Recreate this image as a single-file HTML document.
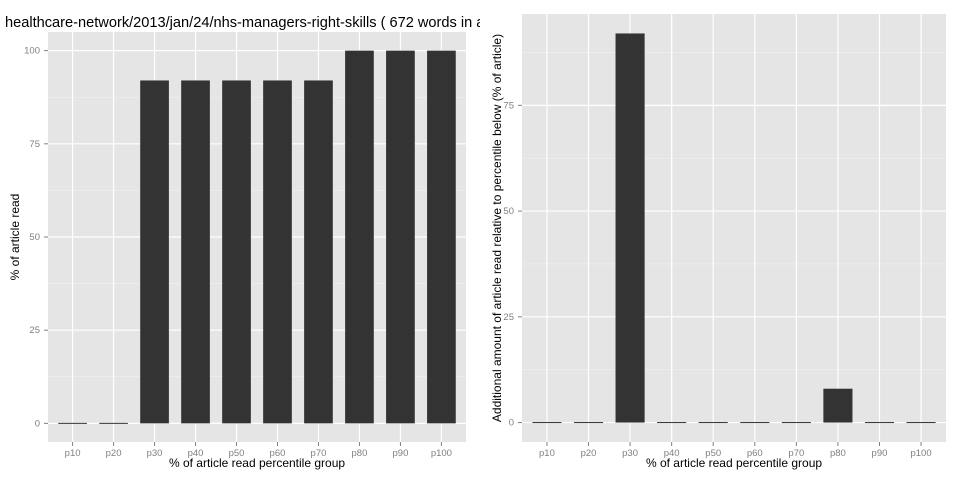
<!DOCTYPE html>
<html><head><meta charset="utf-8"><style>
html,body{margin:0;padding:0;background:#fff;}
svg{display:block;font-family:"Liberation Sans",sans-serif;}
</style></head><body>
<svg id="chart" width="960" height="480" viewBox="0 0 960 480">
<defs><clipPath id="leftclip"><rect x="0" y="0" width="480" height="480"/></clipPath></defs>
</svg>
<script>
const categories = ["p10","p20","p30","p40","p50","p60","p70","p80","p90","p100"];
const leftValues = [0,0,92,92,92,92,92,100,100,100];
const rightValues = [0,0,92,0,0,0,0,8,0,0];
const leftTicks = [0,25,50,75,100];
const rightTicks = [0,25,50,75];

const NS = "http://www.w3.org/2000/svg";
const svg = document.getElementById("chart");
function mk(tag, attrs, parent){
  const e = document.createElementNS(NS, tag);
  for (const k in attrs) e.setAttribute(k, attrs[k]);
  (parent||svg).appendChild(e);
  return e;
}

function panel(cfg){
  const g = mk("g", {});
  
  
  const {x0,x1,y0,y1,vals,ticks} = cfg;
  const maxV = Math.max(...vals);
  const lo = -0.05*maxV, hi = maxV*1.05;
  const yS = v => y1 - (v - lo)/(hi - lo)*(y1 - y0);
  const step = (x1 - x0)/(categories.length + 0.2);
  const xS = i => x0 + step*(0.6 + i);
  const bg = mk("rect",{x:x0,y:y0,width:x1-x0,height:y1-y0,fill:"#e5e5e5"},g);
  
  
  for (let k=0;k<ticks.length;k++){
    const m = ticks[k] + 12.5;
    if (m < hi) mk("line",{x1:x0,x2:x1,y1:yS(m),y2:yS(m),stroke:"#f2f2f2","stroke-width":0.5},g);
  }
  ticks.forEach(t=>{
    mk("line",{x1:x0,x2:x1,y1:yS(t),y2:yS(t),stroke:"#fff","stroke-width":1.2},g);
    const lab = mk("text",{x:x0-8,y:yS(t)+3,"text-anchor":"end","font-size":9.5,fill:"#7f7f7f"},g);
    lab.textContent = t;
    
    
    mk("line",{x1:x0-4,x2:x0,y1:yS(t),y2:yS(t),stroke:"#7f7f7f","stroke-width":1},g);
  });
  categories.forEach((c,i)=>{
    const cx = xS(i);
    mk("line",{x1:cx,x2:cx,y1:y0,y2:y1,stroke:"#fff","stroke-width":1.2},g);
  });
  categories.forEach((c,i)=>{
    const cx = xS(i), bw = step*0.7;
    const top = yS(Math.max(vals[i],0)), base = yS(0);
    const h = Math.max(base-top, 1);
    const r = mk("rect",{x:cx-bw/2,y:base-h+(vals[i]===0?0.5:0),width:bw,height:h,fill:"#333333"},g);
    
    
    mk("line",{x1:cx,x2:cx,y1:y1,y2:y1+4,stroke:"#7f7f7f","stroke-width":1},g);
    const lab = mk("text",{x:cx,y:y1+14,"text-anchor":"middle","font-size":9.5,fill:"#7f7f7f"},g);
    lab.textContent = c;
    
    
  });
  const xt = mk("text",{x:(x0+x1)/2,y:y1+25,"text-anchor":"middle","font-size":12,fill:"#000"},g);
  xt.textContent = "% of article read percentile group";
  
  
  const yt = mk("text",{x:0,y:0,"text-anchor":"middle","font-size":12,fill:"#000",transform:`translate(${cfg.ytx},${(y0+y1)/2}) rotate(-90)`},g);
  yt.textContent = cfg.ytitle;
  
  
}

panel({name:"left-panel",x0:48,x1:466,y0:32,y1:442,vals:leftValues,ticks:leftTicks,ytx:19,ytitle:"% of article read"});
panel({name:"right-panel",x0:522,x1:946,y0:14,y1:442,vals:rightValues,ticks:rightTicks,ytx:501,ytitle:"Additional amount of article read relative to percentile below (% of article)"});

const title = mk("text",{x:5,y:27,"font-size":14.6,fill:"#000","clip-path":"url(#leftclip)"});
title.textContent = "healthcare-network/2013/jan/24/nhs-managers-right-skills ( 672 words in article)";


</script>
</body></html>
